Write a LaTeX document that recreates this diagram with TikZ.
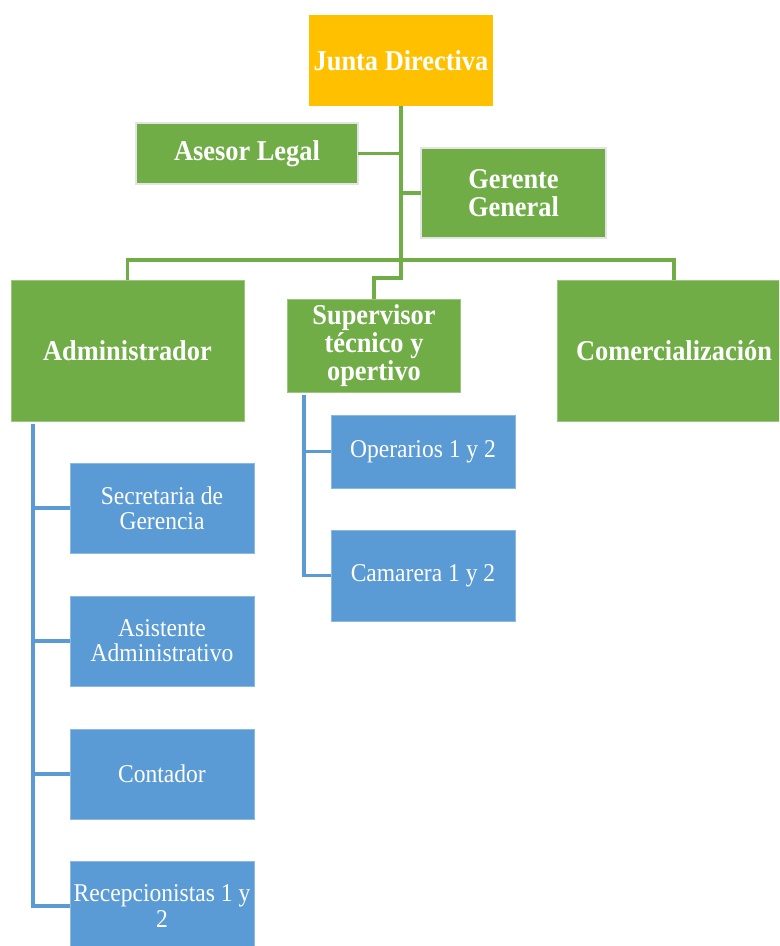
\documentclass[tikz,border=0pt]{standalone}
\usepackage{fontspec}
\setmainfont[FakeStretch=0.92]{Liberation Serif}
\usepackage{tikz}
\definecolor{orgorange}{HTML}{FFC000}
\definecolor{orggreen}{HTML}{70AD47}
\definecolor{orgblue}{HTML}{5B9BD5}
\definecolor{orggray}{HTML}{E4E4E4}

\begin{document}
\begin{tikzpicture}
  [x=0.025cm,y=-0.025cm,
   junta/.style={rectangle,fill=orgorange,align=center,text=white,inner sep=1pt,
                 outer sep=0,font=\fontsize{20.4}{19.8}\selectfont\bfseries},
   dept/.style={rectangle,fill=orggreen,draw=orggreen!70!white,line width=0.6pt,
                align=center,text=white,inner sep=1pt,outer sep=0,
                font=\fontsize{20.4}{19.8}\selectfont\bfseries},
   staff/.style={dept,draw=orggray,line width=2pt},
   unit/.style={rectangle,fill=orgblue,draw=orgblue!70!white,line width=0.6pt,
                align=center,text=white,inner sep=1pt,outer sep=0,
                minimum width=4.6cm,font=\fontsize{18.2}{17.9}\selectfont},
   gline/.style={draw=orggreen,line width=2.2pt},
   bline/.style={draw=orgblue,line width=2.2pt}]
  \useasboundingbox (0,0) rectangle (779,946);
  \clip (0,0) rectangle (779,946);
%  top of the chart
  \node[junta,minimum width=4.6cm,minimum height=2.275cm] (junta) at (401,60.5) {Junta Directiva};
  \node[staff,minimum width=5.55cm,minimum height=1.525cm] (asesor) at (247,153.5) {Asesor Legal};
  \node[staff,minimum width=4.625cm,minimum height=2.25cm] (gerente) at (513.5,193) {Gerente\\General};
%  departments
  \node[dept,minimum width=5.825cm,minimum height=3.525cm] (admin) at (127.5,350.5) {Administrador};
  \node[dept,minimum width=4.31cm,minimum height=2.325cm] (super) at (374,345.5) {Supervisor\\t\'ecnico y\\opertivo};
  \node[dept,minimum width=5.85cm,minimum height=3.525cm] (comer) at (674,350.5) {Comercializaci\'on};
%  staff under the departments
  \node[unit,minimum height=2.25cm] (secre) at (162,508) {Secretaria de\\Gerencia};
  \node[unit,minimum height=2.25cm] (asist) at (162,641) {Asistente\\Administrativo};
  \node[unit,minimum height=2.25cm] (conta) at (162,774) {Contador};
  \node[unit,minimum height=2.25cm] (recep) at (162,906) {Recepcionistas 1 y\\2};
  \node[unit,minimum height=1.825cm] (opera) at (423,451.5) {Operarios 1 y 2};
  \node[unit,minimum height=2.275cm] (camar) at (423,575.5) {Camarera 1 y 2};
%  green connectors
  \coordinate (bus) at (401,260);
  \coordinate (bend) at (401,278);
  \draw[gline] (junta.south) |- (asesor.east);
  \draw[gline] (junta.south) |- (gerente.west);
  \draw[gline] (junta.south) -- (bend) -| (super.north);
  \draw[gline] (bus) -| (admin.north);
  \draw[gline] (bus) -| (comer.north);
%  blue connectors
  \coordinate (arail) at (33,424);
  \coordinate (srail) at (304,395);
  \draw[bline] (arail) |- (secre.west);
  \draw[bline] (arail) |- (asist.west);
  \draw[bline] (arail) |- (conta.west);
  \draw[bline] (arail) |- (recep.west);
  \draw[bline] (srail) |- (opera.west);
  \draw[bline] (srail) |- (camar.west);
\end{tikzpicture}
\end{document}
